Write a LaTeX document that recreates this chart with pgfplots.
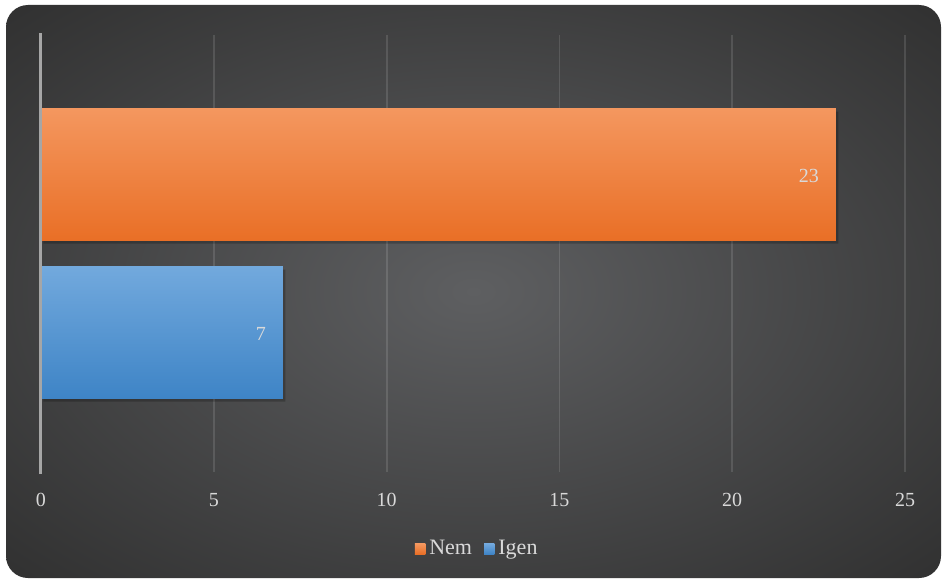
\documentclass[border=0pt]{standalone}
\usepackage{pgfplots}
\pgfplotsset{compat=1.18}
\usepackage{fontspec}
\setmainfont{Liberation Serif}
\definecolor{txt}{HTML}{D9D9D9}
\definecolor{orT}{HTML}{F4975F}
\definecolor{orB}{HTML}{E96F26}
\definecolor{blT}{HTML}{72A9DD}
\definecolor{blB}{HTML}{3E84C6}
\definecolor{orL}{HTML}{F07F30}
\definecolor{blL}{HTML}{5B9BD5}
\definecolor{bgIn}{HTML}{5E5F61}
\definecolor{bgOut}{HTML}{303030}
\pgfdeclareradialshading{bgshade}{\pgfpoint{0bp}{0bp}}{color(0bp)=(bgIn); color(36bp)=(bgOut); color(50bp)=(bgOut)}
\begin{document}
\begin{tikzpicture}
\fill[white] (0,0) rectangle (471pt,290pt);
\shade[shading=bgshade, rounded corners=11pt] (3pt,1pt) rectangle (470.5pt,287.5pt);
\begin{axis}[
  at={(20.5pt,54pt)}, anchor=south west,
  scale only axis, width=432pt, height=218.5pt,
  xmin=0, xmax=25, ymin=-218.5, ymax=218.5,
  xtick={0,5,...,25},
  axis line style={draw=none},
  hide y axis,
  xmajorgrids,
  major grid style={white, opacity=0.12, line width=0.9pt},
  major tick length=0pt,
  tick style={draw=none},
  xticklabel style={font=\fontsize{10}{12}\selectfont, text=txt, yshift=-7pt},
  /pgf/number format/assume math mode=true,
  legend style={draw=none, fill=none, at={(0.506,-0.176)}, anchor=center,
    font=\fontsize{11}{13}\selectfont, text=txt, legend columns=2,
    /tikz/every even column/.append style={column sep=4pt}},
  legend cell align=left,
  clip=false,
]
\addplot[xbar, bar width=132, bar shift=0pt, fill=black, fill opacity=0.22, draw=none, xshift=1.2pt, yshift=-1.5pt, forget plot] coordinates {(23,79) (7,-79)};
\addplot[xbar, bar width=132, bar shift=0pt, draw=none, top color=orT, bottom color=orB,
  nodes near coords, point meta=x,
  nodes near coords style={anchor=east, xshift=-5pt, yshift=-0.8pt, text=txt, font=\fontsize{10}{12}\selectfont},
  legend image code/.code={\fill[orL] (0pt,-2.6pt) rectangle (5.2pt,2.6pt);}]
  coordinates {(23,79)};
\addlegendentry{Nem}
\addplot[xbar, bar width=132, bar shift=0pt, draw=none, top color=blT, bottom color=blB,
  nodes near coords, point meta=x,
  nodes near coords style={anchor=east, xshift=-5pt, yshift=-0.8pt, text=txt, font=\fontsize{10}{12}\selectfont},
  legend image code/.code={\fill[blL] (0pt,-2.6pt) rectangle (5.2pt,2.6pt);}]
  coordinates {(7,-79)};
\addlegendentry{Igen}
\draw[color=gray!70!white, line width=1.5pt] (axis cs:0,-220.5) -- (axis cs:0,220.5);
\end{axis}
\end{tikzpicture}
\end{document}
